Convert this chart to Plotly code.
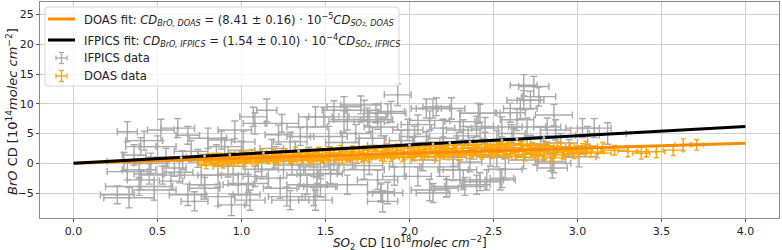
import plotly.graph_objects as go

# ---- fit parameters (slopes in plot units: 1e14 BrO per 1e18 SO2) ----
doas_slope = 0.841
ifpics_slope = 1.54
fit_x = [0.0, 4.0]

# ---- IFPICS data (gray) ----
ifpics_so2 = [0.32, 0.39, 0.52, 0.62, 0.32, 0.36, 0.40, 0.68, 0.72, 0.53, 0.46, 0.60, 0.76, 0.78, 0.26, 0.33, 0.40, 0.50, 0.68, 0.39,
              0.45, 0.55, 0.65, 0.70, 0.58, 0.48, 0.74, 0.42, 0.63, 0.30,
              0.86, 0.94, 1.04, 1.05, 1.27, 1.43, 1.47, 1.25, 1.35, 1.43, 1.08, 0.96, 1.39, 1.07, 1.15, 1.24, 1.49, 0.80, 0.88, 1.01,
              1.29, 0.86, 0.98, 1.03, 1.29, 1.16, 1.23, 1.39, 0.78, 1.35, 1.44,
              0.85, 0.92, 1.00, 1.10, 1.12, 1.18, 1.20, 1.30, 1.32, 1.40, 1.45, 0.95, 1.08, 0.90, 1.22,
              1.55, 1.83, 1.81, 1.61, 1.55, 1.73, 1.75, 1.93, 1.81, 1.61, 1.71, 1.80, 1.76, 1.83, 1.63, 1.87, 1.99, 1.47, 1.53, 1.63,
              1.83, 1.84, 1.45, 1.44, 1.91, 1.73, 1.87, 1.89,
              1.60, 1.68, 1.70, 1.78, 1.85, 1.90, 1.95, 1.58, 1.66, 1.76, 1.52, 1.97,
              2.03, 2.14, 2.25, 2.42, 2.54, 2.32, 2.22, 2.12, 2.05, 2.30, 2.42, 2.10, 2.45, 2.32, 2.20, 2.18, 2.26, 2.46, 2.40, 2.33,
              2.22, 2.14, 2.08, 2.16, 2.41,
              2.05, 2.10, 2.15, 2.20, 2.28, 2.35, 2.38, 2.45, 2.48, 2.02, 2.12, 2.30, 2.40, 2.26, 2.36,
              2.86, 2.85, 2.70, 2.68, 2.68, 2.55, 2.68, 2.55, 2.64, 2.61, 2.74, 2.77, 2.86, 2.82, 2.87, 3.10, 3.06, 3.18, 2.84, 3.01,
              2.72, 3.03,
              2.52, 2.58, 2.62, 2.72, 2.78, 2.90, 2.95, 2.75, 2.60, 2.66, 2.80, 2.52, 2.57]
ifpics_bro = [5.3, -3.9, 5.6, 5.9, -1.4, 1.4, 2.8, -5.3, -6.4, -2.0, 0.0, -0.8, -2.0, -3.6, -5.3, -5.8, -2.8, 2.8, 4.7, -1.1,
              -1.8, 1.0, 0.5, 2.0, -3.0, -4.5, 0.8, 3.8, -1.5, 0.3,
              -5.6, -7.0, -3.4, -6.2, -5.6, -5.6, -3.9, -1.1, -2.0, -0.6, 6.7, 5.6, 6.1, 7.8, 8.9, 6.7, 7.8, 4.2, 3.9, 3.6,
              3.6, -2.0, -3.6, -5.3, -6.2, -2.5, -4.2, -3.6, -4.2, 4.5, 7.8,
              1.5, -0.5, 2.2, 0.3, -1.0, 2.5, 1.0, -0.3, 2.0, 1.2, -1.8, -1.8, -2.2, 2.8, 4.8,
              0.55, -4.8, -2.8, 7.0, 8.9, 8.9, 7.8, 11.5, 7.3, 9.5, 9.8, 8.4, 7.0, 6.1, 7.3, 8.4, 5.6, -1.1, -1.7, -3.6,
              -5.0, -6.4, -3.9, -6.2, -2.2, -1.1, -5.0, 8.7,
              3.5, 5.0, 2.5, 4.2, 3.0, 1.0, 3.8, -0.3, 0.8, -0.4, 4.5, -0.6,
              4.5, 9.2, 9.2, 8.4, -2.8, -2.8, -4.2, -4.5, -2.2, -1.1, -3.1, 9.2, 5.9, 5.6, 5.9, -0.6, -1.1, -2.8, -3.6, -3.9,
              -3.9, -5.0, 0.55, 9.5, 8.4,
              6.5, 3.5, 2.0, 4.2, 3.0, 4.6, 2.5, 3.6, 1.2, 2.8, 7.2, 7.0, 6.2, 1.0, 0.2,
              0.0, -0.8, 6.1, 13.1, 10.6, 6.1, 0.55, -2.5, 7.3, 5.0, 12.9, 11.2, 8.1, 6.1, 5.6, 5.9, 4.7, 5.0, 0.3, 1.1,
              10.6, 5.9,
              3.8, 2.6, 4.0, 3.2, 4.5, 3.4, 2.5, 1.5, 8.5, 9.2, 2.2, 1.0, -1.0]
ifpics_so2_err = [0.06, 0.2, 0.08, 0.1, 0.12, 0.07, 0.09, 0.11, 0.08, 0.13, 0.1, 0.07, 0.12, 0.09, 0.1, 0.15, 0.08, 0.11, 0.07, 0.1,
                  0.09, 0.12, 0.08, 0.1, 0.07, 0.13, 0.09, 0.11, 0.08, 0.1,
                  0.1, 0.08, 0.12, 0.09, 0.11, 0.07, 0.1, 0.13, 0.08, 0.09, 0.07, 0.1, 0.12, 0.08, 0.06, 0.1, 0.09, 0.11, 0.08, 0.07,
                  0.1, 0.12, 0.09, 0.08, 0.11, 0.07, 0.1, 0.12, 0.09, 0.08, 0.1,
                  0.11, 0.09, 0.08, 0.12, 0.1, 0.07, 0.09, 0.11, 0.08, 0.1, 0.12, 0.09, 0.07, 0.1, 0.08,
                  0.1, 0.08, 0.12, 0.09, 0.07, 0.1, 0.11, 0.08, 0.09, 0.1, 0.12, 0.07, 0.09, 0.1, 0.08, 0.11, 0.09, 0.1, 0.07, 0.12,
                  0.08, 0.09, 0.11, 0.1, 0.07, 0.12, 0.09, 0.08,
                  0.1, 0.09, 0.11, 0.08, 0.1, 0.12, 0.07, 0.09, 0.1, 0.08, 0.11, 0.09,
                  0.09, 0.1, 0.08, 0.12, 0.09, 0.1, 0.07, 0.11, 0.08, 0.1, 0.12, 0.09, 0.08, 0.1, 0.07, 0.11, 0.09, 0.1, 0.08, 0.12,
                  0.09, 0.1, 0.07, 0.08, 0.11,
                  0.1, 0.08, 0.12, 0.09, 0.1, 0.07, 0.11, 0.09, 0.08, 0.1, 0.12, 0.09, 0.1, 0.08, 0.07,
                  0.1, 0.09, 0.11, 0.08, 0.1, 0.12, 0.09, 0.07, 0.1, 0.08, 0.09, 0.1, 0.11, 0.08, 0.09, 0.1, 0.07, 0.11, 0.09, 0.1,
                  0.08, 0.1,
                  0.09, 0.1, 0.08, 0.11, 0.09, 0.1, 0.07, 0.12, 0.09, 0.1, 0.08, 0.09, 0.1]
ifpics_bro_err = [1.7, 1.5, 1.8, 1.6, 1.4, 1.7, 1.5, 1.8, 1.6, 1.5, 1.7, 1.4, 1.8, 1.6, 1.5, 1.7, 1.6, 1.8, 1.5, 1.6,
                  1.7, 1.5, 1.6, 1.8, 1.4, 1.7, 1.5, 1.6, 1.8, 1.5,
                  1.6, 1.8, 1.5, 1.7, 1.6, 1.5, 1.8, 1.4, 1.7, 1.6, 1.8, 1.5, 1.7, 1.6, 1.9, 1.5, 1.6, 1.7, 1.5, 1.8,
                  1.6, 1.5, 1.7, 1.8, 1.6, 1.5, 1.7, 1.6, 1.8, 1.5, 1.7,
                  1.6, 1.8, 1.5, 1.7, 1.6, 1.5, 1.8, 1.6, 1.7, 1.5, 1.6, 1.8, 1.7, 1.5, 1.6,
                  1.7, 1.5, 1.6, 1.8, 1.6, 1.7, 1.5, 1.8, 1.6, 1.7, 1.5, 1.6, 1.8, 1.5, 1.7, 1.6, 1.8, 1.5, 1.7, 1.6,
                  1.5, 1.8, 1.6, 1.7, 1.5, 1.6, 1.8, 1.7,
                  1.6, 1.5, 1.7, 1.8, 1.6, 1.5, 1.7, 1.6, 1.8, 1.5, 1.7, 1.6,
                  1.7, 1.6, 1.8, 1.5, 1.7, 1.6, 1.5, 1.8, 1.6, 1.7, 1.5, 1.6, 1.8, 1.7, 1.5, 1.6, 1.8, 1.7, 1.6, 1.5,
                  1.7, 1.6, 1.8, 1.5, 1.7,
                  1.6, 1.8, 1.5, 1.7, 1.6, 1.5, 1.8, 1.6, 1.7, 1.5, 1.6, 1.8, 1.7, 1.5, 1.6,
                  1.6, 1.7, 1.5, 1.8, 1.6, 1.7, 1.5, 1.6, 1.8, 1.5, 1.7, 1.6, 1.8, 1.5, 1.7, 1.6, 1.5, 1.8, 1.6, 1.7,
                  1.5, 1.6,
                  1.7, 1.6, 1.8, 1.5, 1.7, 1.6, 1.5, 1.8, 1.6, 1.7, 1.5, 1.6, 1.8]

# ---- DOAS data (orange) ----
doas_so2 = [0.78, 0.80, 0.82, 0.85, 0.87, 0.90, 0.92, 0.95, 0.97, 1.00, 1.03, 1.05, 1.08, 1.10, 1.13, 1.15, 1.18, 1.20, 1.23, 1.25,
            1.28, 1.30, 1.33, 1.35, 1.38, 1.40, 1.43, 1.45, 1.48, 1.50, 1.52, 1.55, 1.57, 1.60, 1.62, 1.65, 1.67, 1.70, 1.72, 1.75,
            1.77, 1.80, 1.82, 1.85, 1.87, 1.90, 1.92, 1.95, 1.97, 2.00, 2.02, 2.05, 2.07, 2.10, 2.12, 2.15, 2.17, 2.20, 2.22, 2.25,
            2.27, 2.30, 2.32, 2.35, 2.37, 2.40, 2.42, 2.45, 2.47, 2.50, 2.52, 2.55, 2.57, 2.60, 2.62, 2.65, 2.67, 2.70, 2.72, 2.75,
            2.78, 2.80, 2.83, 2.86, 2.90, 2.94, 2.98, 3.03, 3.08, 3.15, 3.22, 3.30, 3.38, 3.41, 3.47, 3.57, 3.63, 3.71,
            0.79, 0.83, 0.86, 0.89, 0.93, 0.96, 0.99, 1.02, 1.06, 1.09, 1.12, 1.16, 1.19, 1.22, 1.26, 1.29, 1.32, 1.36, 1.39, 1.42,
            1.46, 1.49, 1.53, 1.56, 1.59, 1.63, 1.66, 1.69, 1.73, 1.76, 1.79, 1.83, 1.86, 1.89, 1.93, 1.96, 1.99, 2.03, 2.06, 2.09,
            2.13, 2.16, 2.19, 2.23, 2.26, 2.29, 2.33, 2.36, 2.39, 2.43, 2.46, 2.49, 2.53, 2.56, 2.59, 2.63, 2.66, 2.69, 2.73, 2.76,
            2.81, 2.85, 2.88, 2.92, 2.96, 3.00, 3.05, 3.12]
doas_bro = [0.2, 0.9, 0.4, 0.1, 1.0, 0.6, 0.3, 1.1, 0.7, 0.5, 1.2, 0.8, 0.4, 1.0, 1.3, 0.7, 1.1, 0.6, 1.4, 0.9,
            1.2, 0.7, 1.5, 1.0, 1.3, 0.8, 1.6, 1.1, 0.6, 1.4, 1.0, 1.7, 1.2, 0.7, 1.5, 1.1, 1.9, 1.3, 0.9, 1.6,
            1.2, 2.0, 1.4, 1.0, 1.8, 1.3, 2.1, 1.6, 1.1, 1.9, 1.5, 2.2, 1.3, 1.8, 2.4, 1.6, 2.0, 1.4, 2.3, 1.8,
            2.5, 1.6, 2.1, 2.6, 1.7, 2.2, 1.5, 2.7, 2.0, 2.4, 1.8, 2.9, 2.2, 1.6, 2.6, 2.0, 3.0, 2.3, 1.5, 2.6,
            2.0, 1.2, 2.5, 1.8, 2.7, 2.1, 1.6, 2.4, 1.9, 2.6, 2.2, 2.0, 1.7, 1.95, 1.95, 2.2, 3.1, 3.1,
            -0.3, 1.2, 0.5, -0.2, 1.3, 0.2, 1.5, 0.0, 1.6, 0.3, 1.7, 0.4, 1.8, 0.5, 1.9, 0.4, 2.0, 0.6, 1.9, 0.5,
            2.1, 0.8, 2.2, 0.6, 2.3, 0.8, 2.4, 0.7, 2.3, 0.9, 2.5, 1.0, 2.6, 0.9, 2.7, 1.0, 2.6, 1.1, 2.8, 1.2,
            2.9, 1.0, 2.8, 1.3, 3.0, 1.2, 3.1, 1.4, 3.0, 1.3, 3.2, 1.5, 3.1, 1.4, 3.3, 1.2, 3.2, 1.0, 3.0, 1.3,
            2.9, 0.9, 2.8, 1.4, 2.6, 1.8, 2.9, 1.7]
doas_so2_err = [0.04, 0.05, 0.03, 0.04, 0.05, 0.04, 0.03, 0.05, 0.04, 0.05, 0.04, 0.03, 0.05, 0.04, 0.05, 0.04, 0.03, 0.05, 0.04, 0.05,
                0.04, 0.05, 0.03, 0.04, 0.05, 0.04, 0.05, 0.03, 0.04, 0.05, 0.04, 0.05, 0.04, 0.03, 0.05, 0.04, 0.05, 0.04, 0.05, 0.03,
                0.04, 0.05, 0.04, 0.05, 0.04, 0.03, 0.05, 0.04, 0.05, 0.04, 0.05, 0.04, 0.03, 0.05, 0.04, 0.05, 0.04, 0.05, 0.04, 0.03,
                0.05, 0.04, 0.05, 0.04, 0.05, 0.04, 0.03, 0.05, 0.04, 0.05, 0.04, 0.05, 0.04, 0.03, 0.05, 0.04, 0.05, 0.04, 0.05, 0.04,
                0.05, 0.06, 0.05, 0.06, 0.05, 0.06, 0.07, 0.06, 0.08, 0.07, 0.08, 0.06, 0.05, 0.06, 0.05, 0.06, 0.05, 0.04,
                0.05, 0.04, 0.06, 0.05, 0.04, 0.05, 0.06, 0.04, 0.05, 0.06, 0.04, 0.05, 0.04, 0.06, 0.05, 0.04, 0.05, 0.06, 0.04, 0.05,
                0.06, 0.04, 0.05, 0.04, 0.06, 0.05, 0.04, 0.05, 0.06, 0.04, 0.05, 0.04, 0.06, 0.05, 0.04, 0.05, 0.06, 0.04, 0.05, 0.06,
                0.04, 0.05, 0.04, 0.06, 0.05, 0.04, 0.05, 0.06, 0.04, 0.05, 0.06, 0.04, 0.05, 0.04, 0.06, 0.05, 0.04, 0.05, 0.06, 0.04,
                0.05, 0.06, 0.05, 0.06, 0.07, 0.06, 0.07, 0.08]
doas_bro_err = [0.6, 0.7, 0.5, 0.6, 0.7, 0.5, 0.6, 0.7, 0.6, 0.5, 0.7, 0.6, 0.5, 0.7, 0.6, 0.5, 0.7, 0.6, 0.7, 0.5,
                0.6, 0.7, 0.5, 0.6, 0.7, 0.6, 0.5, 0.7, 0.6, 0.5, 0.7, 0.6, 0.5, 0.7, 0.6, 0.7, 0.5, 0.6, 0.7, 0.6,
                0.5, 0.7, 0.6, 0.7, 0.5, 0.6, 0.7, 0.6, 0.5, 0.7, 0.6, 0.5, 0.7, 0.6, 0.7, 0.5, 0.6, 0.7, 0.6, 0.5,
                0.7, 0.6, 0.5, 0.7, 0.6, 0.7, 0.5, 0.6, 0.7, 0.6, 0.5, 0.7, 0.6, 0.5, 0.7, 0.6, 0.7, 0.5, 0.6, 0.7,
                0.6, 0.7, 0.8, 0.7, 0.8, 0.7, 0.8, 0.9, 0.8, 0.9, 0.8, 0.9, 1.0, 0.9, 1.0, 0.9, 1.0, 0.9,
                0.6, 0.5, 0.7, 0.6, 0.5, 0.7, 0.6, 0.5, 0.7, 0.6, 0.7, 0.5, 0.6, 0.7, 0.6, 0.5, 0.7, 0.6, 0.5, 0.7,
                0.6, 0.7, 0.5, 0.6, 0.7, 0.6, 0.5, 0.7, 0.6, 0.7, 0.5, 0.6, 0.7, 0.6, 0.5, 0.7, 0.6, 0.7, 0.5, 0.6,
                0.7, 0.6, 0.5, 0.7, 0.6, 0.7, 0.5, 0.6, 0.7, 0.6, 0.5, 0.7, 0.6, 0.7, 0.5, 0.6, 0.7, 0.6, 0.5, 0.7,
                0.6, 0.7, 0.8, 0.7, 0.8, 0.7, 0.8, 0.8]

# gray dots visible on the IFPICS fit line
ifpics_line_dot_x = [0.64, 0.78, 0.93, 1.13, 1.34, 2.0, 2.14, 2.24, 2.36, 2.55, 2.64, 2.8]

x_ticks = [0.0, 0.5, 1.0, 1.5, 2.0, 2.5, 3.0, 3.5, 4.0]
y_ticks = [-5, 0, 5, 10, 15, 20, 25]

legend_labels = [
    "DOAS fit: <i>CD<sub>BrO, DOAS</sub></i> = (8.41 ± 0.16) · 10<sup>−5</sup><i>CD<sub>SO₂, DOAS</sub></i>",
    "IFPICS fit: <i>CD<sub>BrO, IFPICS</sub></i> = (1.54 ± 0.10) · 10<sup>−4</sup><i>CD<sub>SO₂, IFPICS</sub></i>",
    "IFPICS data",
    "DOAS data",
]

GRAY = "#a9a9a9"
ORANGE = "#ffa500"
DORANGE = "#ff8c00"
FONT = "DejaVu Sans"

# figure geometry (pixels) used to place the hand-built legend
W, H = 782, 250
ML, MR, MT, MB = 40, 3, 2, 32
PW, PH = W - ML - MR, H - MT - MB


def px(xp):
    return (xp - ML) / PW


def py(yp):
    return (H - MB - yp) / PH


fig = go.Figure()

fig.add_trace(go.Scatter(
    x=ifpics_so2, y=ifpics_bro, mode="markers", name="IFPICS data",
    marker=dict(color=GRAY, size=3),
    error_x=dict(type="data", array=ifpics_so2_err, color=GRAY, thickness=1.4, width=3.5),
    error_y=dict(type="data", array=ifpics_bro_err, color=GRAY, thickness=1.4, width=3.5),
    showlegend=False, hoverinfo="skip"))

fig.add_trace(go.Scatter(
    x=doas_so2, y=doas_bro, mode="markers", name="DOAS data",
    marker=dict(color=ORANGE, size=3),
    error_x=dict(type="data", array=doas_so2_err, color=ORANGE, thickness=1.4, width=2.5),
    error_y=dict(type="data", array=doas_bro_err, color=ORANGE, thickness=1.4, width=2.5),
    showlegend=False, hoverinfo="skip"))

fig.add_trace(go.Scatter(
    x=fit_x, y=[doas_slope * v for v in fit_x], mode="lines", name="DOAS fit",
    line=dict(color=DORANGE, width=3), showlegend=False))
fig.add_trace(go.Scatter(
    x=fit_x, y=[ifpics_slope * v for v in fit_x], mode="lines", name="IFPICS fit",
    line=dict(color="black", width=3), showlegend=False))
fig.add_trace(go.Scatter(
    x=ifpics_line_dot_x, y=[ifpics_slope * v for v in ifpics_line_dot_x], mode="markers",
    marker=dict(color="#bbbbbb", size=3), showlegend=False, hoverinfo="skip"))

# ---- hand-built legend (matplotlib style) ----
shapes = []
annotations = []
bx0, bx1, by0, by1 = 45, 399, 7, 86
r = 3
path = (f"M {px(bx0 + r)} {py(by0)} L {px(bx1 - r)} {py(by0)} Q {px(bx1)} {py(by0)} {px(bx1)} {py(by0 + r)} "
        f"L {px(bx1)} {py(by1 - r)} Q {px(bx1)} {py(by1)} {px(bx1 - r)} {py(by1)} "
        f"L {px(bx0 + r)} {py(by1)} Q {px(bx0)} {py(by1)} {px(bx0)} {py(by1 - r)} "
        f"L {px(bx0)} {py(by0 + r)} Q {px(bx0)} {py(by0)} {px(bx0 + r)} {py(by0)} Z")
shapes.append(dict(type="path", xref="paper", yref="paper", path=path,
                   fillcolor="rgba(255,255,255,0.8)", line=dict(color="#d8d8d8", width=1), layer="above"))
row_y = [19, 40, 58, 76]
for yy, col in zip(row_y[:2], [DORANGE, "black"]):
    shapes.append(dict(type="line", xref="paper", yref="paper", x0=px(48), x1=px(75), y0=py(yy), y1=py(yy),
                       line=dict(color=col, width=3), layer="above"))
for yy, col in zip(row_y[2:], [GRAY, ORANGE]):
    cx = 61.5
    for seg in [(cx - 5.5, yy, cx + 5.5, yy), (cx, yy - 5.5, cx, yy + 5.5),
                (cx - 5.5, yy - 2.5, cx - 5.5, yy + 2.5), (cx + 5.5, yy - 2.5, cx + 5.5, yy + 2.5),
                (cx - 2.5, yy - 5.5, cx + 2.5, yy - 5.5), (cx - 2.5, yy + 5.5, cx + 2.5, yy + 5.5)]:
        shapes.append(dict(type="line", xref="paper", yref="paper", x0=px(seg[0]), x1=px(seg[2]),
                           y0=py(seg[1]), y1=py(seg[3]), line=dict(color=col, width=1.3), layer="above"))
for yy, txt in zip(row_y, legend_labels):
    annotations.append(dict(text=txt, xref="paper", yref="paper", x=px(82), y=py(yy),
                            xanchor="left", yanchor="middle", showarrow=False,
                            font=dict(family=FONT, size=11.6, color="#222")))

annotations += [
    dict(text="<i>SO</i><sub>2</sub> CD [10<sup>18</sup><i>molec cm</i><sup>−2</sup>]",
         xref="paper", yref="paper", x=0.5, y=py(242.5), xanchor="center", yanchor="middle",
         showarrow=False, font=dict(family=FONT, size=12, color="#222")),
    dict(text="<i>BrO</i> CD [10<sup>14</sup><i>molec cm</i><sup>−2</sup>]",
         xref="paper", yref="paper", x=px(12), y=py(112), xanchor="center", yanchor="middle",
         textangle=-90, showarrow=False, font=dict(family=FONT, size=13, color="#222")),
]

axis_common = dict(
    showgrid=True, gridcolor="#d0d0d0", gridwidth=1, automargin=False,
    zeroline=False, showline=True, linecolor="#8a8a8a", linewidth=1, mirror=True,
    ticks="outside", ticklen=3, tickcolor="#555", tickfont=dict(family=FONT, size=11, color="#222"),
)

fig.update_layout(
    width=W, height=H,
    margin=dict(l=ML, r=MR, t=MT, b=MB),
    paper_bgcolor="white", plot_bgcolor="white",
    font=dict(family=FONT, size=12, color="#222"),
    showlegend=False,
    xaxis=dict(range=[-0.2, 4.2], tickvals=x_ticks, tickformat=".1f", **axis_common),
    yaxis=dict(range=[-9.2, 27.1], tickvals=y_ticks, **axis_common),
    shapes=shapes,
    annotations=annotations,
)

fig.write_html("out.html", config={"displayModeBar": False},
               post_script="document.body.style.margin='0';document.body.style.padding='0';")
